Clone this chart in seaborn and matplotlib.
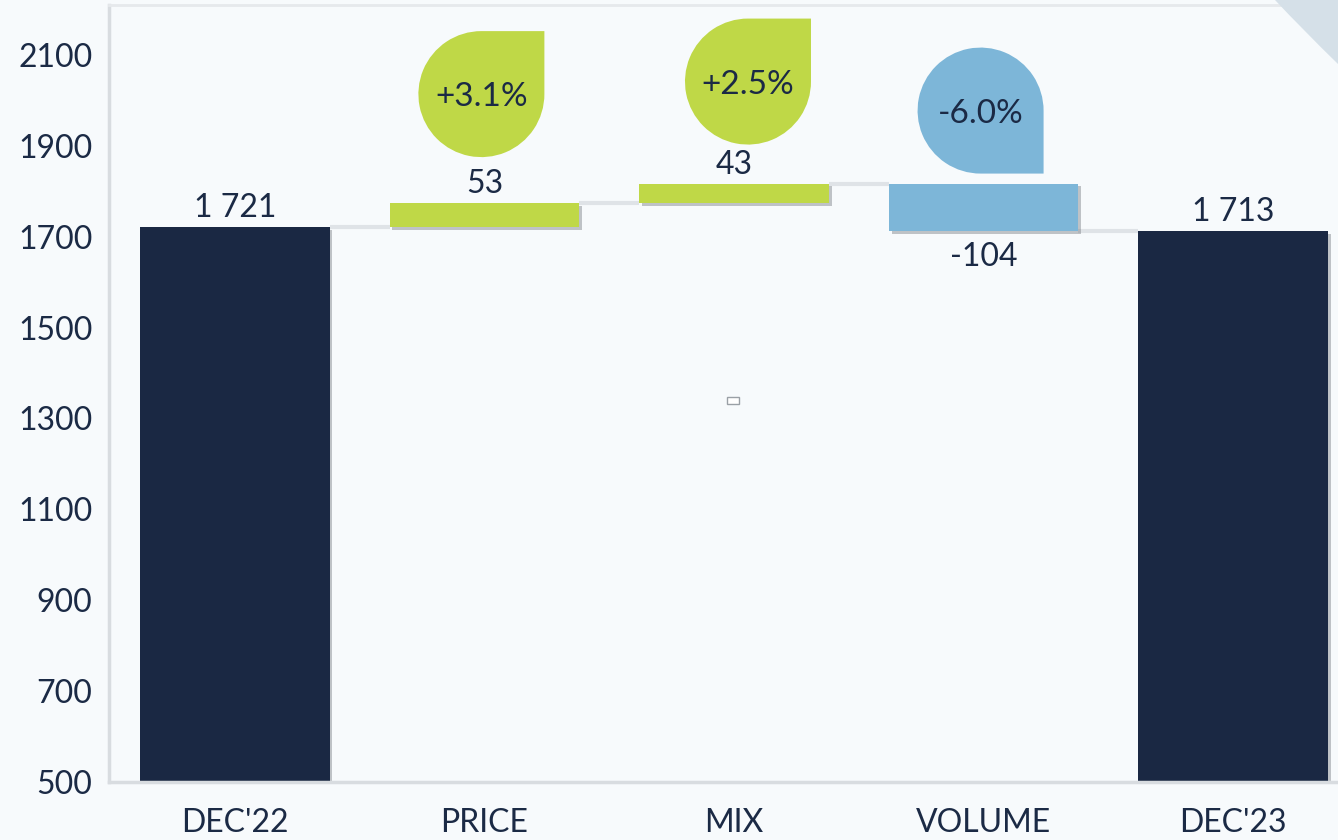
import numpy as np
import pandas as pd
import matplotlib
matplotlib.use("Agg")
import matplotlib.pyplot as plt
import matplotlib.patheffects as pe
import matplotlib.transforms as mtransforms
from matplotlib.path import Path
from matplotlib.patches import PathPatch, Rectangle
import seaborn as sns

# ---------------- data ----------------
categories = ["DEC'22", "PRICE", "MIX", "VOLUME", "DEC'23"]
values = [1721, 53, 43, -104, 1713]
kinds = ["total", "delta", "delta", "delta", "total"]
value_labels = ["1 721", "53", "43", "-104", "1 713"]
pct_labels = [None, "+3.1%", "+2.5%", "-6.0%", None]
y_ticks = [500, 700, 900, 1100, 1300, 1500, 1700, 1900, 2100]

# ---------------- style ----------------
NAVY = "#1a2843"
GREEN = "#bfd847"
BLUE = "#7db6d8"
BG = "#f7fafc"
GRID = "#dfe3e7"
TXT = "#1b2a45"
FS = 23

# waterfall geometry derived from the data
bottoms, heights, levels, colors = [], [], [], []
running = 0
for v, k in zip(values, kinds):
    if k == "total":
        bottoms.append(0)
        heights.append(v)
        running = v
        colors.append(NAVY)
    else:
        bottoms.append(running)
        heights.append(v)
        running += v
        colors.append(GREEN if v >= 0 else BLUE)
    levels.append(running)

df = pd.DataFrame({"cat": categories, "height": heights, "bottom": bottoms})

sns.set_theme(style="white")
plt.rcParams["font.family"] = ["Lato", "DejaVu Sans"]

fig = plt.figure(figsize=(13.38, 8.4), dpi=100, facecolor=BG)
ax = fig.add_axes([109 / 1338, 58 / 840, 1 - 109 / 1338, (782 - 5) / 840])
ax.set_facecolor(BG)

BAR_W = 0.76
sns.barplot(data=df, x="cat", y="height", bottom=df["bottom"].to_numpy(),
            width=BAR_W, color=NAVY, saturation=1, errorbar=None, ax=ax,
            zorder=3, linewidth=0)

shadow = [pe.SimplePatchShadow(offset=(2, -2), shadow_rgbFace="#7a7f85", alpha=0.45),
          pe.Normal()]
for patch, c in zip(ax.patches, colors):
    patch.set_facecolor(c)
    patch.set_edgecolor("none")
    patch.set_path_effects(shadow)

ax.set_xlim(-0.504, 4.42)
ax.set_ylim(500, 2210)
ax.set_yticks(y_ticks)
ax.set_xlabel("")
ax.set_ylabel("")

# connectors
for i in range(len(categories) - 1):
    ax.plot([i + BAR_W / 2, i + 1 - BAR_W / 2], [levels[i], levels[i]],
            color=GRID, lw=3, zorder=2, solid_capstyle="butt")

# value labels
for i, (b, h, lab) in enumerate(zip(bottoms, heights, value_labels)):
    if h >= 0:
        ax.annotate(lab, xy=(i, b + h), xytext=(0, 7), textcoords="offset points",
                    ha="center", va="baseline", fontsize=FS, color=TXT, zorder=5)
    else:
        ax.annotate(lab, xy=(i, b + h), xytext=(0, -8), textcoords="offset points",
                    ha="center", va="top", fontsize=FS, color=TXT, zorder=5)

# drop-shaped bubbles
R = 0.63  # inches
bubble_offsets = {1: (-0.03, 1.09), 2: (0.14, 1.02), 3: (-0.03, 0.73)}


def drop_path(square_corner):
    if square_corner == "top":
        arc = Path.arc(90, 360)
        extra = [(1, 1), (0, 1)]
    else:
        arc = Path.arc(0, 270)
        extra = [(1, -1), (1, 0)]
    verts = np.vstack([arc.vertices, np.array(extra)])
    codes = list(arc.codes) + [Path.LINETO] * len(extra)
    return Path(verts, codes)


for i, lab in enumerate(pct_labels):
    if lab is None:
        continue
    top = max(bottoms[i], bottoms[i] + heights[i])
    dx, dy = bubble_offsets[i]
    corner = "top" if heights[i] >= 0 else "bottom"
    tr = (mtransforms.Affine2D().scale(R).translate(dx, dy)
          + fig.dpi_scale_trans
          + mtransforms.ScaledTranslation(i, top, ax.transData))
    pp = PathPatch(drop_path(corner), transform=tr,
                   facecolor=colors[i], edgecolor="none", zorder=4, clip_on=False)
    ax.add_patch(pp)
    ax.annotate(lab, xy=(i, top), xytext=(dx * 72, dy * 72), textcoords="offset points",
                ha="center", va="center_baseline", fontsize=FS + 1, color=TXT, zorder=6)

# small placeholder box in the middle of the plot
ax.add_patch(Rectangle((0.503, 0.486), 0.0095, 0.009, transform=ax.transAxes,
                       facecolor="white", edgecolor="#9aa0a6", lw=1, zorder=6))

# axes styling
ax.spines["right"].set_visible(False)
ax.spines["left"].set_color("#d8dce0")
ax.spines["left"].set_linewidth(2.5)
ax.spines["bottom"].set_color("#d8dce0")
ax.spines["bottom"].set_linewidth(2.5)
ax.spines["top"].set_color("#e6e9ec")
ax.spines["top"].set_linewidth(2)
for s in ax.spines.values():
    s.set_zorder(4)

ax.tick_params(axis="y", length=0, pad=12, labelsize=FS, labelcolor=TXT)
ax.tick_params(axis="x", length=0, pad=19, labelsize=FS, labelcolor=TXT)

# page-curl decoration at top-right corner
curl_verts = [(1275 / 1338, 1.0), (1.0, 1.0), (1.0, 1 - 64 / 840),
              (1303 / 1338, 1 - 30 / 840), (1275 / 1338, 1.0)]
curl_codes = [Path.MOVETO, Path.LINETO, Path.LINETO, Path.CURVE3, Path.CURVE3]
fig.add_artist(PathPatch(Path(curl_verts, curl_codes), transform=fig.transFigure,
                         facecolor="#d5e0e8", edgecolor="none", zorder=10))

fig.savefig("out.png", dpi=100, facecolor=BG)
